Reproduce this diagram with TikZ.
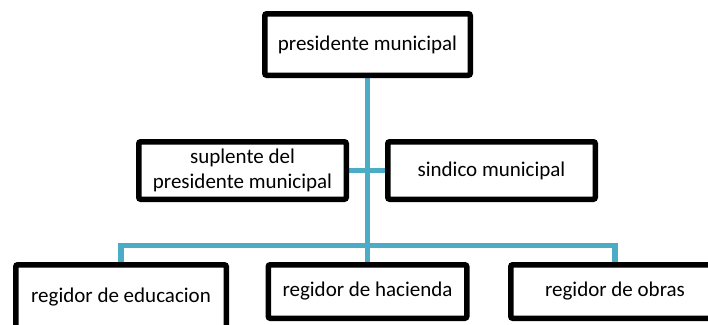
\documentclass[tikz,border=0pt]{standalone}
\usepackage{fontspec}
\setmainfont{Carlito}
\usetikzlibrary{backgrounds}
\definecolor{connblue}{RGB}{75,172,198}
\begin{document}
\begin{tikzpicture}[x=1pt,y=-1pt,
  box/.style={draw=black,fill=white,line width=5.5pt,rounded corners=2pt,inner sep=0pt,
    font=\fontsize{21}{25}\selectfont,align=center},
  conn/.style={draw=connblue,line width=5.5pt}]
\clip (0,0) rectangle (708,324);
\coordinate (bus) at (367.5,245.5);
\node[box,minimum width=205.5pt,minimum height=61.5pt] (p) at (367.5,44.5) {presidente municipal};
\node[box,minimum width=207.5pt,minimum height=57.5pt] (sup) at (242.5,170.5) {suplente del\\presidente municipal};
\node[box,minimum width=207.5pt,minimum height=57.5pt] (sin) at (491.5,170.5) {sindico municipal};
\node[box,minimum width=210.5pt,minimum height=64.5pt] (el) at (121,297) {regidor de educacion};
\node[box,minimum width=198.5pt,minimum height=53.5pt] (ha) at (367.5,291.5) {regidor de hacienda};
\node[box,minimum width=208.5pt,minimum height=53.5pt] (ob) at (615,291.5) {regidor de obras};
\begin{scope}[on background layer]
\fill[white] (0,0) rectangle (708,324);
\path[conn] (p.south) -- (bus);
\path[conn] (sup.east) -- (sin.west);
\path[conn] (el.north) -- (el.north |- bus) -- (ob.north |- bus) -- (ob.north);
\path[conn] (bus) -- (ha.north);
\end{scope}
\end{tikzpicture}
\end{document}
